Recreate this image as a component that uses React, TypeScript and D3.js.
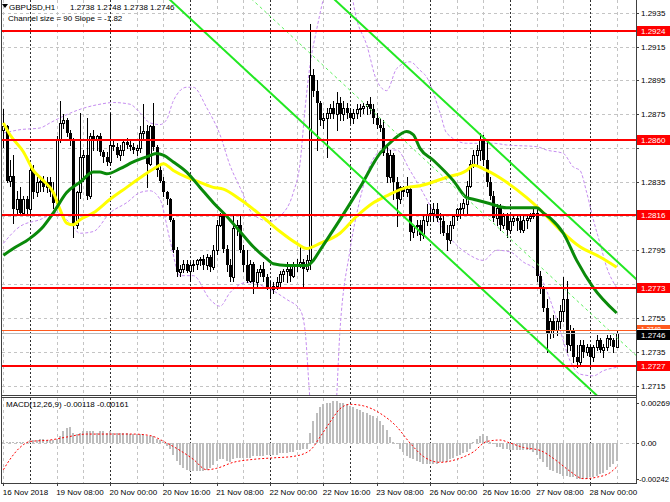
import React from "react";
import * as d3 from "d3";

// ---------- DATA ----------
// H1 candles starting 16 Nov 2018 16:00, [open, high, low, close]
const candles: [number, number, number, number][] = [
  [1.2866,1.2878,1.2856,1.2868],[1.2868,1.2869,1.2835,1.2836],[1.2836,1.2848,1.2833,1.2839],[1.2839,1.2851,1.2811,1.2819],
  [1.2819,1.2830,1.2816,1.2825],[1.2825,1.2832,1.2817,1.2817],[1.2817,1.2827,1.2816,1.2825],[1.2825,1.2827,1.2816,1.2819],
  [1.2819,1.2845,1.2817,1.2842],[1.2842,1.2845,1.2826,1.2829],[1.2829,1.2838,1.2827,1.2835],[1.2835,1.2839,1.2830,1.2836],
  [1.2836,1.2839,1.2830,1.2832],[1.2832,1.2838,1.2829,1.2835],[1.2835,1.2838,1.2827,1.2829],[1.2829,1.2835,1.2820,1.2823],
  [1.2823,1.2862,1.2822,1.2860],[1.2860,1.2883,1.2859,1.2870],[1.2870,1.2875,1.2867,1.2872],[1.2872,1.2873,1.2862,1.2864],
  [1.2864,1.2866,1.2857,1.2860],[1.2860,1.2861,1.2803,1.2810],[1.2810,1.2830,1.2808,1.2829],[1.2829,1.2876,1.2826,1.2850],
  [1.2850,1.2854,1.2836,1.2851],[1.2851,1.2873,1.2825,1.2827],[1.2827,1.2864,1.2826,1.2862],[1.2862,1.2866,1.2854,1.2860],
  [1.2860,1.2863,1.2854,1.2862],[1.2862,1.2864,1.2851,1.2853],[1.2853,1.2854,1.2847,1.2850],[1.2850,1.2853,1.2845,1.2847],
  [1.2847,1.2876,1.2845,1.2857],[1.2857,1.2860,1.2854,1.2856],[1.2856,1.2858,1.2850,1.2851],[1.2851,1.2857,1.2848,1.2854],
  [1.2854,1.2860,1.2851,1.2859],[1.2859,1.2861,1.2855,1.2857],[1.2857,1.2860,1.2854,1.2856],[1.2856,1.2858,1.2852,1.2854],
  [1.2854,1.2857,1.2851,1.2855],[1.2855,1.2868,1.2853,1.2864],[1.2864,1.2881,1.2861,1.2865],[1.2865,1.2869,1.2832,1.2846],
  [1.2846,1.2869,1.2845,1.2868],[1.2868,1.2882,1.2854,1.2856],[1.2856,1.2857,1.2839,1.2842],[1.2842,1.2845,1.2835,1.2836],
  [1.2836,1.2838,1.2827,1.2829],[1.2829,1.2830,1.2822,1.2825],[1.2825,1.2826,1.2812,1.2813],[1.2813,1.2814,1.2794,1.2795],
  [1.2795,1.2797,1.2780,1.2782],[1.2782,1.2786,1.2780,1.2784],[1.2784,1.2789,1.2782,1.2787],[1.2787,1.2789,1.2782,1.2783],
  [1.2783,1.2788,1.2777,1.2786],[1.2786,1.2789,1.2783,1.2787],[1.2787,1.2790,1.2784,1.2789],[1.2789,1.2791,1.2786,1.2790],
  [1.2790,1.2792,1.2784,1.2786],[1.2786,1.2793,1.2784,1.2791],[1.2791,1.2792,1.2783,1.2785],[1.2785,1.2798,1.2784,1.2795],
  [1.2795,1.2813,1.2793,1.2810],[1.2810,1.2817,1.2809,1.2815],[1.2815,1.2817,1.2794,1.2796],[1.2796,1.2798,1.2783,1.2786],
  [1.2786,1.2790,1.2777,1.2779],[1.2779,1.2815,1.2777,1.2808],[1.2808,1.2813,1.2804,1.2810],[1.2810,1.2816,1.2794,1.2795],
  [1.2795,1.2798,1.2783,1.2786],[1.2786,1.2795,1.2776,1.2777],[1.2777,1.2789,1.2776,1.2787],[1.2787,1.2788,1.2770,1.2776],
  [1.2776,1.2784,1.2774,1.2782],[1.2782,1.2786,1.2780,1.2784],[1.2784,1.2788,1.2777,1.2779],[1.2779,1.2781,1.2772,1.2773],
  [1.2773,1.2777,1.2767,1.2772],[1.2772,1.2776,1.2770,1.2774],[1.2774,1.2779,1.2772,1.2776],[1.2776,1.2783,1.2774,1.2781],
  [1.2781,1.2784,1.2777,1.2783],[1.2783,1.2788,1.2776,1.2784],[1.2784,1.2786,1.2777,1.2780],[1.2780,1.2788,1.2779,1.2786],
  [1.2786,1.2790,1.2783,1.2787],[1.2787,1.2798,1.2785,1.2788],[1.2788,1.2790,1.2773,1.2784],[1.2784,1.2792,1.2783,1.2789],
  [1.2789,1.2928,1.2784,1.2898],[1.2898,1.2902,1.2886,1.2889],[1.2889,1.2895,1.2854,1.2882],[1.2882,1.2883,1.2869,1.2872],
  [1.2872,1.2876,1.2867,1.2873],[1.2873,1.2879,1.2850,1.2876],[1.2876,1.2881,1.2873,1.2879],[1.2879,1.2883,1.2873,1.2875],
  [1.2875,1.2888,1.2866,1.2882],[1.2882,1.2885,1.2872,1.2875],[1.2875,1.2883,1.2872,1.2879],[1.2879,1.2882,1.2873,1.2876],
  [1.2876,1.2879,1.2870,1.2873],[1.2873,1.2878,1.2870,1.2876],[1.2876,1.2881,1.2873,1.2878],[1.2878,1.2881,1.2874,1.2879],
  [1.2879,1.2882,1.2876,1.2880],[1.2880,1.2883,1.2875,1.2881],[1.2881,1.2885,1.2876,1.2878],[1.2878,1.2881,1.2870,1.2873],
  [1.2873,1.2876,1.2867,1.2869],[1.2869,1.2873,1.2865,1.2867],[1.2867,1.2872,1.2851,1.2852],[1.2852,1.2856,1.2835,1.2838],
  [1.2838,1.2854,1.2835,1.2851],[1.2851,1.2852,1.2825,1.2835],[1.2835,1.2838,1.2809,1.2825],[1.2825,1.2833,1.2823,1.2832],
  [1.2832,1.2833,1.2827,1.2829],[1.2829,1.2838,1.2827,1.2831],[1.2831,1.2833,1.2801,1.2806],[1.2806,1.2810,1.2803,1.2809],
  [1.2809,1.2813,1.2804,1.2810],[1.2810,1.2813,1.2801,1.2804],[1.2804,1.2816,1.2802,1.2813],[1.2812,1.2822,1.2810,1.2816],
  [1.2816,1.2822,1.2812,1.2817],[1.2817,1.2823,1.2812,1.2819],[1.2819,1.2823,1.2812,1.2814],[1.2814,1.2817,1.2805,1.2813],
  [1.2812,1.2816,1.2804,1.2805],[1.2805,1.2810,1.2795,1.2801],[1.2801,1.2812,1.2799,1.2810],[1.2810,1.2816,1.2808,1.2815],
  [1.2815,1.2820,1.2813,1.2819],[1.2819,1.2823,1.2814,1.2820],[1.2820,1.2825,1.2817,1.2823],[1.2822,1.2836,1.2816,1.2833],
  [1.2833,1.2848,1.2832,1.2846],[1.2846,1.2854,1.2844,1.2851],[1.2851,1.2857,1.2845,1.2854],[1.2854,1.2864,1.2848,1.2860],
  [1.2860,1.2863,1.2845,1.2848],[1.2848,1.2860,1.2833,1.2835],[1.2835,1.2838,1.2825,1.2827],[1.2827,1.2830,1.2812,1.2814],
  [1.2814,1.2822,1.2810,1.2820],[1.2820,1.2822,1.2807,1.2810],[1.2810,1.2817,1.2808,1.2815],[1.2815,1.2817,1.2803,1.2807],
  [1.2807,1.2814,1.2805,1.2812],[1.2812,1.2816,1.2810,1.2814],[1.2814,1.2816,1.2807,1.2812],[1.2812,1.2816,1.2806,1.2807],
  [1.2807,1.2816,1.2806,1.2813],[1.2813,1.2816,1.2808,1.2814],[1.2814,1.2817,1.2812,1.2815],[1.2815,1.2820,1.2814,1.2817],
  [1.2817,1.2819,1.2777,1.2780],[1.2780,1.2783,1.2770,1.2773],[1.2773,1.2774,1.2759,1.2761],[1.2761,1.2766,1.2735,1.2746],
  [1.2746,1.2755,1.2743,1.2753],[1.2753,1.2757,1.2744,1.2748],[1.2748,1.2755,1.2745,1.2753],[1.2753,1.2763,1.2749,1.2759],
  [1.2759,1.2779,1.2753,1.2766],[1.2766,1.2777,1.2735,1.2739],[1.2739,1.2751,1.2736,1.2748],[1.2748,1.2749,1.2729,1.2732],
  [1.2732,1.2739,1.2726,1.2729],[1.2729,1.2742,1.2727,1.2739],[1.2739,1.2742,1.2732,1.2735],[1.2735,1.2740,1.2733,1.2738],
  [1.2738,1.2739,1.2726,1.2732],[1.2732,1.2739,1.2730,1.2738],[1.2738,1.2745,1.2736,1.2742],[1.2742,1.2743,1.2735,1.2736],
  [1.2736,1.2740,1.2732,1.2738],[1.2738,1.2745,1.2736,1.2743],[1.2743,1.2745,1.2739,1.2742],[1.2742,1.2743,1.2735,1.2738],
  [1.2738,1.2748,1.2738,1.2746],
];

// Moving averages and bands, [bar index, price]
const yellowMA: [number, number][] = [
  [0,1.2870],[2,1.2863],[6,1.2853],[9,1.2842],[12,1.2836],[15,1.2829],[17,1.2819],[19,1.2811],[21,1.2810],[23,1.2813],
  [27,1.2817],[32,1.2825],[37,1.2832],[42,1.2839],[46,1.2844],[48,1.2846],[51,1.2842],[55,1.2838],[59,1.2835],[63,1.2832],
  [66,1.2831],[71,1.2825],[77,1.2816],[83,1.2806],[88,1.2799],[91,1.2796],[95,1.2799],[101,1.2805],[106,1.2815],[111,1.2823],
  [115,1.2827],[121,1.2832],[125,1.2833],[133,1.2838],[139,1.2842],[141,1.2845],[145,1.2842],[151,1.2835],[157,1.2826],
  [161,1.2819],[167,1.2807],[173,1.2797],[179,1.2791],[184,1.2785],
];
const greenMA: [number, number][] = [
  [0,1.2792],[3,1.2796],[8,1.2802],[12,1.2809],[15,1.2817],[19,1.2829],[23,1.2835],[27,1.2841],[29,1.2841],[31,1.2840],
  [35,1.2843],[39,1.2847],[43,1.2850],[46,1.2852],[48,1.2851],[51,1.2847],[55,1.2841],[59,1.2832],[63,1.2823],[67,1.2815],
  [71,1.2806],[75,1.2797],[79,1.2790],[81,1.2787],[85,1.2786],[91,1.2786],[93,1.2789],[95,1.2795],[101,1.2813],[107,1.2832],
  [113,1.2852],[117,1.2860],[121,1.2865],[123,1.2863],[125,1.2855],[129,1.2848],[135,1.2836],[139,1.2826],[141,1.2825],
  [145,1.2823],[151,1.2820],[156,1.2820],[160,1.2820],[162,1.2817],[164,1.2814],[168,1.2805],[172,1.2789],[177,1.2773],[184,1.2758],
];
const upperBand: [number, number][] = [
  [0,1.2864],[5,1.2866],[11,1.2867],[14,1.2870],[17,1.2873],[23,1.2878],[29,1.2881],[33,1.2882],[38,1.2881],[41,1.2876],
  [44,1.2870],[47,1.2869],[49,1.2872],[51,1.2883],[55,1.2891],[57,1.2891],[61,1.2879],[65,1.2863],[68,1.2845],[71,1.2832],
  [75,1.2816],[80,1.2812],[83,1.2815],[87,1.2829],[89,1.2846],[90.5,1.2878],[92,1.2904],[94,1.2925],[97,1.2950],[101,1.2963],
  [104,1.2950],[106,1.2931],[109,1.2916],[112,1.2895],[115,1.2889],[118,1.2902],[122,1.2906],[125,1.2901],[127,1.2897],
  [131,1.2876],[133,1.2864],[139,1.2858],[147,1.2858],[151,1.2857],[160,1.2856],[163,1.2854],[168,1.2852],[171,1.2844],
  [173,1.2842],[175,1.2829],[177,1.2813],[179,1.2799],[181,1.2785],[184,1.2773],
];
const lowerBand: [number, number][] = [
  [0,1.2799],[5,1.2809],[11,1.2813],[16,1.2817],[20,1.2811],[23,1.2805],[27,1.2806],[32,1.2817],[37,1.2823],[41,1.2829],
  [44,1.2830],[47,1.2825],[50,1.2801],[53,1.2780],[57,1.2780],[62,1.2766],[65,1.2762],[68,1.2770],[73,1.2776],[79,1.2773],
  [85,1.2766],[89,1.2760],[90.5,1.2748],[92,1.2707],[95,1.2666],[99.5,1.2695],[101,1.2748],[104,1.2795],[107,1.2825],
  [110,1.2845],[114,1.2854],[118,1.2854],[122,1.2842],[127,1.2825],[131,1.2810],[136,1.2798],[140,1.2792],[144,1.2789],
  [148,1.2795],[152,1.2794],[156,1.2788],[160,1.2783],[164,1.2766],[167,1.2748],[170,1.2730],[173,1.2722],[177,1.2721],
  [180,1.2724],[184,1.2726],
];

const levelLines = [1.2924, 1.286, 1.2816, 1.2773, 1.2727];
const levelLabels = ["1.2924", "1.2860", "1.2816", "1.2773", "1.2727"];
const priceTicks = [1.2935, 1.2915, 1.2895, 1.2875, 1.2855, 1.2835, 1.2815, 1.2795, 1.2775, 1.2755, 1.2735, 1.2715];
const askLevel = 1.2748;
const bidLevel = 1.2746;

const timeLabels: [number, string][] = [
  [0, "16 Nov 2018"], [16, "19 Nov 08:00"], [32, "20 Nov 00:00"], [48, "20 Nov 16:00"], [64, "21 Nov 08:00"],
  [80, "22 Nov 00:00"], [96, "22 Nov 16:00"], [112, "23 Nov 08:00"], [128, "26 Nov 00:00"], [144, "26 Nov 16:00"],
  [160, "27 Nov 08:00"], [176, "28 Nov 00:00"],
];
const daySeparators = [8, 32, 56, 80, 104, 128, 152, 176];

// Linear regression channel
const channelAnchorBar = 125;
const channelMid = 1.2851;
const channelSlope = -0.000182;
const channelHalfWidth = 0.0045;

// MACD(12,26,9)
const macdHist = [
  0.0001,0.0001,0.0001,0.0001,0.0001,0.0001,0.0001,0.0001,
  0.0002,0.0002,0.0002,0.0003,0.0003,0.0002,0.0002,0.0002,0.0003,
  0.0005,0.0008,0.0010,0.0011,
  0.0007,0.0006,0.0007,0.0008,0.0008,0.0008,0.0008,0.0007,0.0008,0.0008,0.0007,0.0008,
  0.0007,0.0007,0.0007,0.0007,0.0007,0.0006,0.0006,0.0006,0.0006,0.0006,0.0005,0.0005,0.0005,
  0.0003,0.0002,0.0001,
  -0.0002,-0.0004,-0.0008,-0.0012,-0.0015,-0.0017,-0.0018,
  -0.0019,-0.0019,-0.0019,-0.0019,-0.0019,
  -0.0018,-0.0017,-0.0015,-0.0012,-0.0011,-0.0011,-0.0012,-0.0013,
  -0.0011,-0.0010,-0.0010,-0.0010,-0.0010,-0.0010,
  -0.0009,-0.0009,-0.0009,-0.0009,-0.0008,-0.0008,-0.0008,-0.0008,-0.0007,-0.0007,-0.0007,
  -0.0006,-0.0006,-0.0005,-0.0005,-0.0004,-0.0004,
  0.0007,0.0015,0.0020,0.0024,0.0026,0.0027,
  0.0027,0.0028,0.0028,0.0027,0.0027,0.0026,0.0025,
  0.0024,0.0023,0.0022,0.0021,0.0020,0.0019,0.0018,0.0017,
  0.0015,0.0012,0.0009,
  0.0004,0.0001,
  -0.0001,-0.0004,-0.0006,-0.0009,
  -0.0010,-0.0011,-0.0012,-0.0013,-0.0014,-0.0014,
  -0.0014,-0.0014,-0.0014,-0.0013,-0.0013,-0.0013,
  -0.0011,-0.0010,-0.0009,-0.0008,-0.0007,-0.0006,-0.0004,
  0.0001,
  0.0003,0.0005,0.0006,0.0005,
  0.0001,-0.0001,
  -0.0003,-0.0003,-0.0004,-0.0004,-0.0005,-0.0005,
  -0.0005,-0.0005,-0.0005,-0.0005,-0.0005,-0.0006,
  -0.0008,-0.0011,-0.0013,
  -0.0016,-0.0018,-0.0019,-0.0020,-0.0021,
  -0.0022,-0.0022,-0.0023,-0.0023,-0.0024,-0.0024,-0.0024,-0.0024,
  -0.0023,-0.0023,-0.0022,-0.0021,-0.0020,
  -0.0018,-0.0016,-0.0014,-0.00118,
];
const macdSignal: [number, number][] = [
  [0,-0.0018],[2,-0.0011],[5,-0.0003],[8,0.0001],[14,0.0002],[19,0.0004],[25,0.0006],[32,0.0006],[39,0.0006],[44,0.0005],
  [49,0.0],[53,-0.0005],[57,-0.0011],[61,-0.0018],[64,-0.0017],[69,-0.0013],[75,-0.0011],[81,-0.0010],[87,-0.0009],
  [92,-0.0005],[95,0.0004],[98,0.0014],[101,0.0023],[104,0.0026],[108,0.0025],[113,0.0020],[118,0.0011],[122,0.0],
  [126,-0.0009],[131,-0.0013],[136,-0.0011],[141,-0.0006],[145,0.0001],[149,0.0002],[152,0.0],[156,-0.0003],[161,-0.0005],
  [166,-0.0012],[170,-0.0019],[174,-0.0024],[178,-0.0023],[182,-0.0020],[184,-0.00161],
];
const macdTicks = [0.00269, 0, -0.00242];
const macdTickLabels = ["0.00269", "0.00", "-0.00242"];

const FONT = "'Liberation Sans', Arial, Helvetica, sans-serif";

export default function App() {
  const W = 670, H = 502;
  const left = 2, right = 636;
  const mainTop = 0, mainBottom = 395;
  const subTop = 398, subBottom = 483;

  const x = d3.scaleLinear().domain([0, 190]).range([3.33, 636.67]);
  const y = d3.scaleLinear().domain([1.27097, 1.29424]).range([mainBottom, mainTop]);
  const ym = d3.scaleLinear().domain([-0.002623, 0.003026]).range([482, 398]);

  const priceLine = d3.line<[number, number]>().x(d => x(d[0])).y(d => y(d[1])).curve(d3.curveMonotoneX);
  const sigLine = d3.line<[number, number]>().x(d => x(d[0])).y(d => ym(d[1])).curve(d3.curveMonotoneX);

  const chanPath = (off: number) => {
    const b0 = 40, b1 = 190;
    const p0 = channelMid + (b0 - channelAnchorBar) * channelSlope + off;
    const p1 = channelMid + (b1 - channelAnchorBar) * channelSlope + off;
    return `M${x(b0)},${y(p0)}L${x(b1)},${y(p1)}`;
  };

  const gridBars = d3.range(0, 190, 8).filter(b => !daySeparators.includes(b));
  const zeroY = Math.round(ym(0)) + 0.5;
  // tick labels that are hidden behind the coloured level labels are not drawn
  const visibleTicks = priceTicks.filter(p => levelLines.every(l => Math.abs(y(l) - y(p)) > 9));
  const askY = Math.round(y(askLevel));
  const bidY = Math.round(y(bidLevel));

  return (
    <svg width={W} height={H} style={{ position: "absolute", left: 0, top: 0, background: "#fff" }}
      fontFamily={FONT} fontSize={8}>
      <defs>
        <clipPath id="mainClip"><rect x={left} y={mainTop} width={right - left} height={mainBottom - mainTop} /></clipPath>
        <clipPath id="subClip"><rect x={left} y={subTop} width={right - left} height={subBottom - subTop} /></clipPath>
        <clipPath id="askClip"><rect x={637} y={askY - 6} width={33} height={bidY - askY + 2} /></clipPath>
      </defs>
      <rect x={0} y={0} width={W} height={H} fill="#fff" />

      {/* grid */}
      <g shapeRendering="crispEdges">
        {priceTicks.map(p => (
          <line key={"hg" + p} x1={left} x2={right} y1={Math.round(y(p)) + 0.5} y2={Math.round(y(p)) + 0.5}
            stroke="#c4c4c4" strokeDasharray="3,3" />
        ))}
        {gridBars.map(b => (
          <g key={"vg" + b}>
            <line x1={Math.round(x(b)) + 0.5} x2={Math.round(x(b)) + 0.5} y1={mainTop} y2={mainBottom} stroke="#c4c4c4" strokeDasharray="3,3" />
            <line x1={Math.round(x(b)) + 0.5} x2={Math.round(x(b)) + 0.5} y1={subTop} y2={subBottom} stroke="#c4c4c4" strokeDasharray="3,3" />
          </g>
        ))}
        {daySeparators.map(b => (
          <g key={"ds" + b}>
            <line x1={Math.round(x(b)) + 0.5} x2={Math.round(x(b)) + 0.5} y1={mainTop} y2={mainBottom} stroke="#303030" strokeDasharray="2,2" />
            <line x1={Math.round(x(b)) + 0.5} x2={Math.round(x(b)) + 0.5} y1={subTop} y2={subBottom} stroke="#303030" strokeDasharray="2,2" />
          </g>
        ))}
        <line x1={left} x2={right} y1={zeroY} y2={zeroY} stroke="#c4c4c4" strokeDasharray="3,3" />
      </g>

      {/* main panel content */}
      <g clipPath="url(#mainClip)">
        <path d={priceLine(upperBand) || ""} fill="none" stroke="#c58cf0" strokeWidth={1} strokeDasharray="3,2" />
        <path d={priceLine(lowerBand) || ""} fill="none" stroke="#c58cf0" strokeWidth={1} strokeDasharray="3,2" />

        <g shapeRendering="crispEdges">
          {candles.map(([o, h, l, c], i) => {
            const cx = Math.round(x(i));
            const yh = Math.round(y(h)), yl = Math.round(y(l));
            const top = Math.round(y(Math.max(o, c)));
            const bot = Math.round(y(Math.min(o, c)));
            const bull = c >= o;
            return (
              <g key={"c" + i}>
                <line x1={cx + 0.5} x2={cx + 0.5} y1={yh} y2={yl + 1} stroke="#000" />
                {bull ? (
                  <rect x={cx - 0.5} y={top + 0.5} width={2} height={Math.max(bot - top, 1)} fill="#fff" stroke="#000" />
                ) : (
                  <rect x={cx - 1} y={top} width={3} height={Math.max(bot - top, 1)} fill="#000" />
                )}
              </g>
            );
          })}
        </g>

        <path d={priceLine(yellowMA) || ""} fill="none" stroke="#ffff00" strokeWidth={3} strokeLinejoin="round" />
        <path d={priceLine(greenMA) || ""} fill="none" stroke="#0a8a0a" strokeWidth={3} strokeLinejoin="round" />

        <path d={chanPath(channelHalfWidth)} stroke="#22e822" strokeWidth={2} fill="none" />
        <path d={chanPath(-channelHalfWidth)} stroke="#22e822" strokeWidth={2} fill="none" />
        <path d={chanPath(0)} stroke="#5cf05c" strokeWidth={1} strokeDasharray="3,3" fill="none" />

        <g shapeRendering="crispEdges">
          {levelLines.map(p => (
            <line key={"lv" + p} x1={left} x2={right} y1={Math.round(y(p))} y2={Math.round(y(p))} stroke="#ff0000" strokeWidth={2} />
          ))}
          <line x1={left} x2={right} y1={askY + 0.5} y2={askY + 0.5} stroke="#ff5a1e" strokeWidth={1} />
          <line x1={left} x2={right} y1={bidY + 0.5} y2={bidY + 0.5} stroke="#b8b8b8" strokeWidth={1} />
        </g>
      </g>

      {/* MACD panel */}
      <g clipPath="url(#subClip)">
        <g shapeRendering="crispEdges">
          {macdHist.map((v, i) => {
            const cx = Math.round(x(i));
            const y0 = Math.round(ym(0));
            const y1 = Math.round(ym(v));
            return <rect key={"h" + i} x={cx - 1} y={Math.min(y0, y1)} width={2} height={Math.max(Math.abs(y1 - y0), 1)} fill="#bdbdbd" />;
          })}
        </g>
        <path d={sigLine(macdSignal) || ""} fill="none" stroke="#ff0000" strokeWidth={1} strokeDasharray="2,2" />
      </g>

      {/* frames */}
      <g shapeRendering="crispEdges" stroke="#404040" fill="none">
        <line x1={1.5} x2={1.5} y1={0} y2={subBottom + 0.5} />
        <line x1={right + 0.5} x2={right + 0.5} y1={0} y2={subBottom + 0.5} />
        <line x1={1.5} x2={right + 0.5} y1={mainBottom + 0.5} y2={mainBottom + 0.5} />
        <line x1={1.5} x2={right + 0.5} y1={subTop - 0.5} y2={subTop - 0.5} />
        <line x1={1.5} x2={right + 0.5} y1={subBottom + 0.5} y2={subBottom + 0.5} />
        {timeLabels.map(([b]) => (
          <line key={"tt" + b} x1={Math.round(x(b)) + 0.5} x2={Math.round(x(b)) + 0.5} y1={subBottom} y2={subBottom + 3} />
        ))}
        {priceTicks.map(p => (
          <line key={"pt" + p} x1={right} x2={right + 3} y1={Math.round(y(p)) + 0.5} y2={Math.round(y(p)) + 0.5} />
        ))}
        {macdTicks.map(v => (
          <line key={"mt" + v} x1={right} x2={right + 3} y1={Math.round(ym(v)) + 0.5} y2={Math.round(ym(v)) + 0.5} />
        ))}
      </g>

      {/* price axis labels */}
      {visibleTicks.map(p => (
        <text key={"pl" + p} x={641} y={y(p) + 3} fill="#000">{p.toFixed(4)}</text>
      ))}
      {levelLines.map((p, k) => (
        <g key={"ll" + p}>
          <rect x={637} y={Math.round(y(p)) - 5} width={33} height={10} fill="#ff0000" />
          <text x={641} y={Math.round(y(p)) + 3} fill="#fff">{levelLabels[k]}</text>
        </g>
      ))}
      <g clipPath="url(#askClip)">
        <rect x={637} y={askY - 5} width={33} height={10} fill="#ff5a1e" />
        <text x={641} y={askY + 1.5} fill="#fff" fontSize={6.5}>{askLevel.toFixed(4)}</text>
      </g>
      <rect x={637} y={bidY - 3} width={33} height={10} fill="#000" />
      <text x={641} y={bidY + 5} fill="#fff">{bidLevel.toFixed(4)}</text>

      {/* MACD axis labels */}
      {macdTicks.map((v, k) => (
        v < 0
          ? <text key={"ml" + k} x={639} y={ym(v) + 3} fill="#000" textLength={30} lengthAdjust="spacingAndGlyphs">{macdTickLabels[k]}</text>
          : <text key={"ml" + k} x={641} y={ym(v) + 3} fill="#000">{macdTickLabels[k]}</text>
      ))}

      {/* time labels */}
      {timeLabels.map(([b, s]) => (
        <text key={"tl" + b} x={x(b) - 0.5} y={495} fill="#000">{s}</text>
      ))}

      {/* header texts */}
      <path d="M2,4 L8,4 L5,8 Z" fill="#000" />
      <text x={9} y={10} fill="#000">GBPUSD,H1</text>
      <text x={70} y={10} fill="#000">1.2738 1.2748 1.2738 1.2746</text>
      <text x={8} y={21} fill="#000">Channel size = 90 Slope = -1.82</text>
      <text x={6} y={407} fill="#000">MACD(12,26,9) -0.00118 -0.00161</text>
    </svg>
  );
}
